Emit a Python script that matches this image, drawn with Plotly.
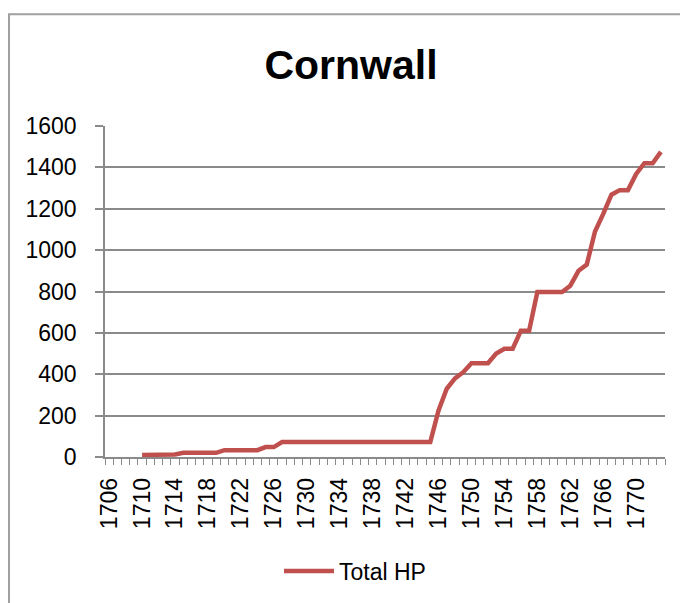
import plotly.graph_objects as go

years = list(range(1710, 1774))
total_hp = [10, 10, 10, 10, 12, 20, 20, 20, 20, 20,
            33, 33, 33, 33, 33, 48, 48, 72, 72, 72,
            72, 72, 72, 72, 72, 72, 72, 72, 72, 72,
            72, 72, 72, 72, 72, 72, 225, 330, 380, 410,
            453, 453, 453, 500, 523, 523, 610, 610, 797, 797,
            797, 797, 828, 900, 930, 1090, 1175, 1268, 1290, 1290,
            1368, 1420, 1420, 1475]
label_years = list(range(1706, 1774, 4))

# page body has an 8px margin, so the figure starts at (8, 8) in the window
OFF = 8
W, H = 688 - OFF, 603 - OFF
PX0, PX1, PY0, PY1 = 105, 665, 126, 458   # plot area in window coords
L = PX0 - OFF
R = W - (PX1 - OFF)
T = PY0 - OFF
B = H - (PY1 - OFF)
pw, ph = PX1 - PX0, PY1 - PY0

def px(x):
    return (x - PX0) / pw

def py(y):
    return (PY1 - y) / ph

GRID = "#8A8A8A"
FONT = "Liberation Sans"

fig = go.Figure()
fig.add_trace(go.Scatter(
    x=years, y=total_hp, mode="lines", name="Total HP",
    line=dict(color="#C0504D", width=4.5),
))

fig.update_layout(
    width=W, height=H,
    margin=dict(l=L, r=R, t=T, b=B),
    paper_bgcolor="white", plot_bgcolor="white",
    font=dict(family=FONT, size=23, color="#000000"),
    title=dict(text="<b>Cornwall</b>", x=(351 - OFF) / W, xanchor="center",
               y=1 - (65 - OFF) / H, yanchor="middle", xref="container", yref="container",
               font=dict(family=FONT, size=41, color="#000000")),
    showlegend=True,
    legend=dict(orientation="h", x=px(355), xanchor="center", y=py(571), yanchor="middle",
                font=dict(family=FONT, size=23), itemwidth=50),
    xaxis=dict(
        type="linear", range=[1705.5, 1773.5],
        tickmode="array", tickvals=label_years, ticktext=[str(v) for v in label_years],
        tickangle=-90, ticks="", showgrid=False, zeroline=False,
        showline=True, linecolor=GRID, linewidth=1.6,
        tickfont=dict(family=FONT, size=23),
        ticklabelstandoff=10,
        minor=dict(tick0=1705.5, dtick=1, ticks="outside", ticklen=6,
                   tickcolor=GRID, tickwidth=1.3, showgrid=False),
    ),
    yaxis=dict(
        range=[0, 1600], dtick=200, tick0=0,
        showgrid=True, gridcolor=GRID, gridwidth=1.6, zeroline=False,
        showline=True, linecolor=GRID, linewidth=1.6,
        ticks="outside", ticklen=8, tickcolor=GRID, tickwidth=1.6,
        tickfont=dict(family=FONT, size=23),
        ticklabelstandoff=14,
    ),
    shapes=[dict(type="rect", xref="paper", yref="paper",
                 x0=px(9), x1=px(720), y0=py(640), y1=py(14),
                 line=dict(color="#A0A0A0", width=2), layer="below")],
)

fig.write_html("out.html")
